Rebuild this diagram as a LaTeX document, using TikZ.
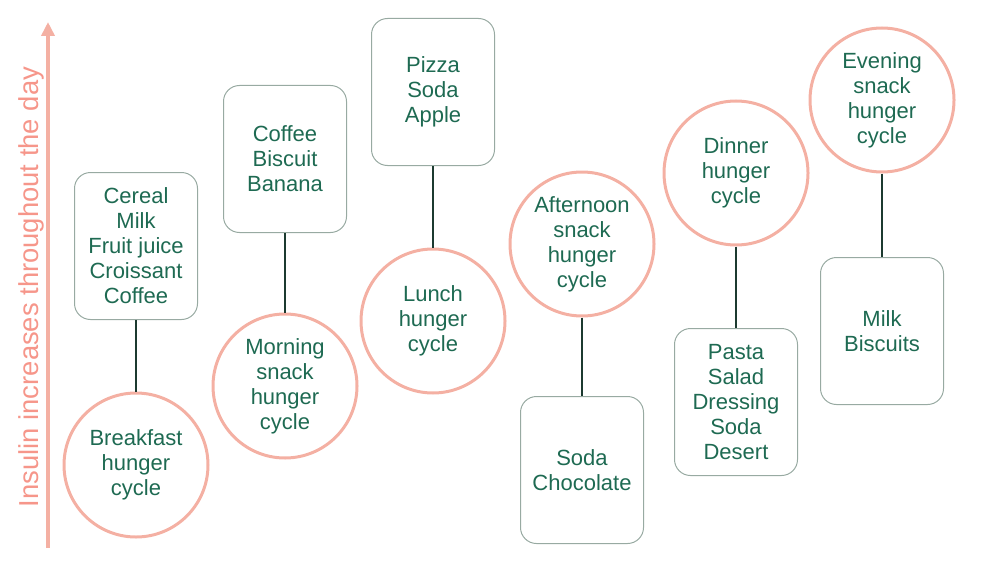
\documentclass[tikz,border=0pt]{standalone}
\usepackage{fontspec}
\setmainfont{Liberation Sans}
\usetikzlibrary{arrows.meta}
\definecolor{txtgreen}{HTML}{1E6A52}
\definecolor{salmon}{HTML}{F4B0A3}
\definecolor{boxgray}{HTML}{98AAA2}
\definecolor{linkdark}{HTML}{1C3A30}
\begin{document}
\begin{tikzpicture}[x=1pt,y=-1pt,
    food/.style={draw=boxgray,line width=1pt,rounded corners=16pt,minimum width=123pt,minimum height=147pt,
        align=center,text=txtgreen,font=\fontsize{22}{25}\selectfont,inner sep=0pt},
    cycle/.style={circle,draw=salmon,line width=3pt,minimum size=144pt,align=center,
        text=txtgreen,font=\fontsize{22}{25}\selectfont,inner sep=0pt},
    link/.style={draw=linkdark,line width=1.3pt}]
    \useasboundingbox (0,0) rectangle (1000,575);
    % axis
    \draw [salmon,line width=4pt,-{Triangle[length=14pt,width=13pt]}] (48,548) -- (48,22);
    \node [rotate=90,text=salmon!85!red,font=\fontsize{27.4}{30}\selectfont] (axis) at (31,287) {Insulin increases throughout the day};
    % breakfast
    \node [food] (breakfastfood) at (136,246) {Cereal\\Milk\\Fruit juice\\Croissant\\Coffee};
    \node [cycle] (breakfast) at (136,465) {Breakfast\\hunger\\cycle};
    \draw [link] (breakfastfood) -- (breakfast);
    % morning snack
    \node [food] (morningfood) at (285,159) {Coffee\\Biscuit\\Banana};
    \node [cycle] (morning) at (285,386) {Morning\\snack\\hunger\\cycle};
    \draw [link] (morningfood) -- (morning);
    % lunch
    \node [food] (lunchfood) at (433,92) {Pizza\\Soda\\Apple};
    \node [cycle] (lunch) at (433,321) {Lunch\\hunger\\cycle};
    \draw [link] (lunchfood) -- (lunch);
    % afternoon snack
    \node [cycle] (afternoon) at (582,244) {Afternoon\\snack\\hunger\\cycle};
    \node [food] (afternoonfood) at (582,470) {Soda\\Chocolate};
    \draw [link] (afternoon) -- (afternoonfood);
    % dinner
    \node [cycle] (dinner) at (736,173) {Dinner\\hunger\\cycle};
    \node [food] (dinnerfood) at (736,402) {Pasta\\Salad\\Dressing\\Soda\\Desert};
    \draw [link] (dinner) -- (dinnerfood);
    % evening snack
    \node [cycle] (evening) at (882,100) {Evening\\snack\\hunger\\cycle};
    \node [food] (eveningfood) at (882,331) {Milk\\Biscuits};
    \draw [link] (evening) -- (eveningfood);
\end{tikzpicture}
\end{document}
